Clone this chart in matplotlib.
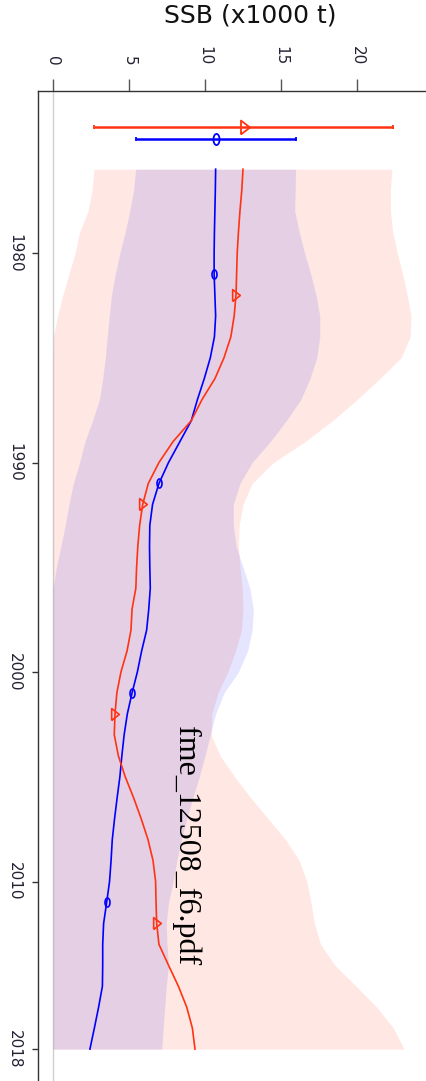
import numpy as np
import matplotlib
matplotlib.use("Agg")
import matplotlib.pyplot as plt

# ---------------- data ----------------
years = list(range(1976, 2019))

blue_ssb = [10.7, 10.68, 10.65, 10.62, 10.6, 10.6, 10.65, 10.7, 10.62, 10.35,
            9.95, 9.5, 9.1, 8.35, 7.6, 6.97, 6.55, 6.37, 6.35, 6.37,
            6.4, 6.3, 6.16, 5.83, 5.55, 5.2, 4.89, 4.68, 4.53, 4.4,
            4.22, 4.05, 3.9, 3.82, 3.72, 3.53, 3.33, 3.27, 3.27, 3.25,
            3.0, 2.72, 2.43]
blue_lo = [5.44, 5.3, 5.05, 4.75, 4.4, 4.1, 3.85, 3.7, 3.57, 3.44,
           3.27, 3.05, 2.6, 2.1, 1.75, 1.34, 1.05, 0.8, 0.52, 0.22,
           0, 0, 0, 0, 0, 0, 0, 0, 0, 0,
           0, 0, 0, 0, 0, 0, 0, 0, 0, 0,
           0, 0, 0]
blue_hi = [15.96, 15.93, 15.9, 16.2, 16.55, 16.95, 17.3, 17.55, 17.55, 17.35,
           16.9, 16.3, 15.35, 14.3, 13.1, 12.3, 11.86, 11.86, 12.05, 12.5,
           12.95, 13.18, 13.1, 12.8, 12.2, 11.25, 10.7, 10.35, 10.0, 9.62,
           9.2, 8.8, 8.45, 8.15, 7.9, 7.6, 7.45, 7.5, 7.6, 7.45,
           7.35, 7.25, 7.15]

red_ssb = [12.5, 12.42, 12.3, 12.2, 12.12, 12.08, 12.04, 11.92, 11.7, 11.25,
           10.65, 9.8, 9.1, 7.9, 6.97, 6.27, 5.9, 5.7, 5.58, 5.5,
           5.45, 5.2, 5.13, 4.87, 4.47, 4.2, 4.08, 4.03, 4.3, 4.75,
           5.3, 5.8, 6.25, 6.58, 6.75, 6.78, 6.82, 6.97, 7.6, 8.25,
           8.8, 9.17, 9.34]
red_lo = [2.7, 2.57, 2.3, 1.75, 1.45, 1.05, 0.65, 0.3, 0.03, 0,
          0, 0, 0, 0, 0, 0, 0, 0, 0, 0,
          0, 0, 0, 0, 0, 0, 0, 0, 0, 0,
          0, 0, 0, 0, 0, 0, 0, 0, 0, 0,
          0, 0, 0]
red_hi = [22.3, 22.2, 22.2, 22.35, 22.65, 23.0, 23.3, 23.55, 23.5, 22.9,
          21.5, 20.0, 18.4, 16.6, 14.5, 13.1, 12.5, 12.25, 12.2, 12.3,
          12.45, 12.5, 12.4, 12.0, 11.5, 10.85, 10.45, 10.4, 11.0, 11.95,
          13.0, 14.15, 15.3, 16.2, 16.7, 16.97, 17.2, 17.6, 18.55, 19.95,
          21.3, 22.4, 23.1]

blue_marker_years = [1981, 1991, 2001, 2011]
red_marker_years = [1982, 1992, 2002, 2012]

# single estimates with intervals shown above the bands
est_year = [1974.0, 1974.55]      # red, blue
est_mid = [12.6, 10.7]
est_lo = [2.72, 5.46]
est_hi = [22.39, 16.0]

xticks = [0, 5, 10, 15, 20]
yticks = [1980, 1990, 2000, 2010, 2018]
title = "SSB (x1000 t)"
note = "fme_12508_f6.pdf"

# ---------------- style ----------------
RED = "#FF3311"
BLUE = "#0000FF"
W, H = 427, 1081
fig = plt.figure(figsize=(W / 100, H / 100), dpi=100)

ax_left, ax_right = 38, 440
ax_top, ax_bot = 91, 1100
ax = fig.add_axes([ax_left / W, 1 - ax_bot / H,
                   (ax_right - ax_left) / W, (ax_bot - ax_top) / H])

px_per_unit = 15.2
x0_px = 53
ax.set_xlim((ax_left - x0_px) / px_per_unit, (ax_right - x0_px) / px_per_unit)
px_per_year = 20.95
y1980_px = 253
ax.set_ylim(1980 + (ax_bot - y1980_px) / px_per_year,
            1980 - (y1980_px - ax_top) / px_per_year)

tri = [(-0.65, -1.0), (0.65, 0.0), (-0.65, 1.0), (-0.65, -1.0)]
t = np.linspace(0, 2 * np.pi, 40)
ell = list(zip(0.55 * np.cos(t), np.sin(t)))

ax.axvline(0, color="#cfcfcf", lw=1.0, zorder=0)

ax.fill_betweenx(years, red_lo, red_hi, color="#FF4020", alpha=0.12, lw=0, zorder=1)
ax.fill_betweenx(years, blue_lo, blue_hi, color=BLUE, alpha=0.10, lw=0, zorder=2)

ax.plot(blue_ssb, years, color=BLUE, lw=1.2, zorder=4)
ax.plot(red_ssb, years, color=RED, lw=1.2, zorder=4)

bidx = [years.index(y) for y in blue_marker_years]
ridx = [years.index(y) for y in red_marker_years]
ax.plot([blue_ssb[i] for i in bidx], blue_marker_years, ls="none", marker=ell,
        ms=6.5, mfc="none", mec=BLUE, mew=1.2, zorder=5)
ax.plot([red_ssb[i] for i in ridx], red_marker_years, ls="none", marker=tri,
        ms=8.5, mfc="none", mec=RED, mew=1.2, zorder=5)

cols = [RED, BLUE]
mks = [tri, ell]
mss = [10, 8]
for i in range(2):
    ax.errorbar(est_mid[i], est_year[i],
                xerr=[[est_mid[i] - est_lo[i]], [est_hi[i] - est_mid[i]]],
                color=cols[i], lw=1.8, capsize=1.5, capthick=1.5,
                marker=mks[i], ms=mss[i], mfc="none", mec=cols[i], mew=1.3,
                zorder=5)

for s in ["right", "bottom"]:
    ax.spines[s].set_visible(False)
for s in ["left", "top"]:
    ax.spines[s].set_color("#333333")
    ax.spines[s].set_linewidth(1.0)

ax.xaxis.tick_top()
ax.set_xticks(xticks)
ax.set_xticklabels([str(v) for v in xticks])
ax.tick_params(axis="x", length=8.6, width=1, color="#555555", pad=10,
               labelrotation=-90, labelsize=11, labelcolor="#222233")
ax.set_yticks(yticks)
ax.set_yticklabels([str(v) for v in yticks])
ax.tick_params(axis="y", length=4.3, width=1, color="#333333", pad=7,
               labelrotation=-90, labelsize=11, labelcolor="#222233")
for lab in ax.get_yticklabels():
    lab.set_verticalalignment("center")

fig.text(250 / W, 1 - 15 / H, title, ha="center", va="center", fontsize=18,
         color="#111111")
fig.text(186 / W, 1 - 846 / H, note, ha="center", va="center", rotation=-90,
         fontsize=23, family="Liberation Serif", color="#000000")

fig.savefig("out.png", dpi=100)
